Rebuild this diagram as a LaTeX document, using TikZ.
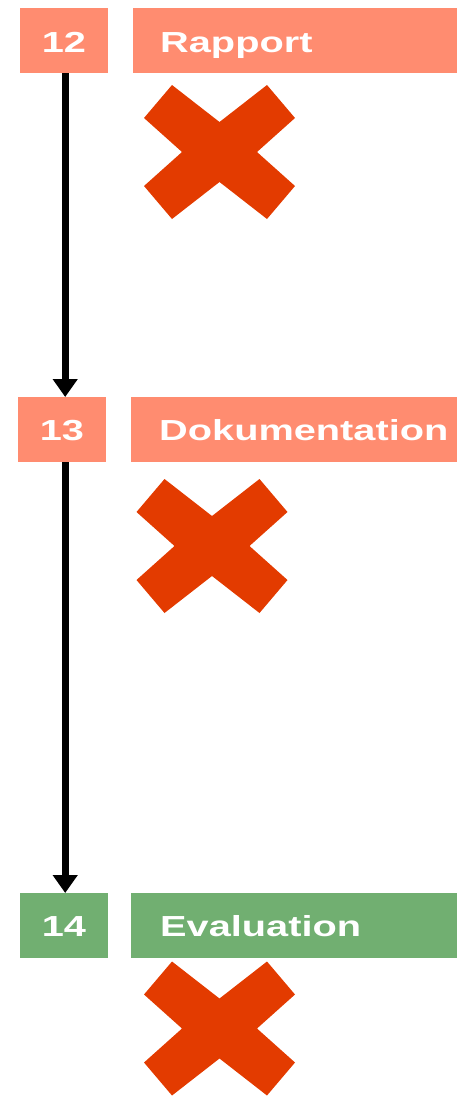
\documentclass[tikz,border=0pt]{standalone}
\usepackage{fontspec}
\setmainfont{Liberation Sans}
\usetikzlibrary{arrows.meta}
\definecolor{salmon}{HTML}{FF8C70}
\definecolor{stepgreen}{HTML}{71AF71}
\definecolor{crossred}{HTML}{E33B00}
\newcommand{\wtxt}[1]{\scalebox{1.37}[1]{\fontsize{29}{29}\selectfont\bfseries #1}}
\tikzset{
  x=1pt, y=-1pt,
  numbox/.style={fill=#1, draw=none, minimum width=88pt, minimum height=65pt, inner sep=0pt, anchor=north west},
  titlebox/.style={fill=#1, draw=none, minimum width=326pt, minimum height=65pt, inner sep=0pt, anchor=north west},
  wlabel/.style={text=white, inner sep=0pt},
  flow/.style={line width=7pt, -{Triangle[width=24pt,length=18pt]}},
  pics/bigcross/.style={code={
    \fill[crossred] (-75.5,-34) -- (-47.5,-67) -- (0,-30) -- (47.5,-67) -- (75.5,-34)
      -- (37.5,0) -- (75.5,34) -- (47.5,67) -- (0,30) -- (-47.5,67) -- (-75.5,34)
      -- (-37.5,0) -- cycle;
  }}
}
\begin{document}
\begin{tikzpicture}
\useasboundingbox (0,0) rectangle (457,1096);
% step 12
\node[numbox=salmon] (n12) at (20,8) {};
\node[titlebox=salmon] (t12) at (133,8) {};
\node[wlabel, anchor=base] (l12) at (64,52) {\wtxt{12}};
\node[wlabel, anchor=base west] (r12) at (160,52) {\wtxt{Rapport}};
\pic at (219.5,152) {bigcross};
% step 13
\node[numbox=salmon] (n13) at (18,397) {};
\node[titlebox=salmon] (t13) at (131,397) {};
\node[wlabel, anchor=base] (l13) at (62,440) {\wtxt{13}};
\node[wlabel, anchor=base west] (r13) at (159,440) {\wtxt{Dokumentation}};
\pic at (212,546) {bigcross};
% step 14
\node[numbox=stepgreen] (n14) at (20,893) {};
\node[titlebox=stepgreen] (t14) at (131,893) {};
\node[wlabel, anchor=base] (l14) at (64,936) {\wtxt{14}};
\node[wlabel, anchor=base west] (r14) at (160,936) {\wtxt{Evaluation}};
\pic at (219.5,1028.5) {bigcross};
% connectors
\draw[flow] ([xshift=1pt]n12.south) -- ([xshift=1pt]n12.south |- n13.north);
\draw[flow] ([xshift=3pt]n13.south) -- ([xshift=3pt]n13.south |- n14.north);
\end{tikzpicture}
\end{document}
